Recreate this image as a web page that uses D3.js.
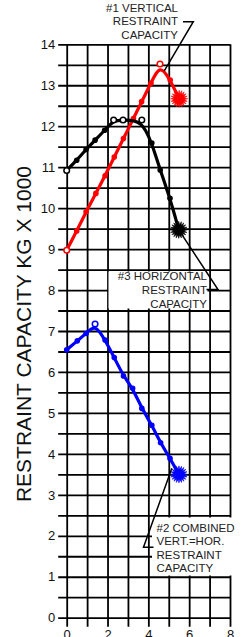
<!DOCTYPE html>
<html>
<head>
<meta charset="utf-8">
<script src="https://cdn.jsdelivr.net/npm/d3@7"></script>
<style>
  html, body { margin: 0; padding: 0; background: #fff; }
  svg { display: block; font-family: "Liberation Sans", Arial, sans-serif; }
</style>
</head>
<body>
<div id="container"></div>
<script>
// #1 vertical restraint capacity (red)
const redX = [0, 0.49, 0.95, 1.43, 1.88, 2.33, 2.78, 3.27, 3.67, 4.13, 4.57, 5.07, 5.51];
const redY = [8.97, 9.44, 9.91, 10.36, 10.79, 11.25, 11.7, 12.19, 12.6, 13.05, 13.52, 13.13, 12.67];
const redMarks = ["o", "d", "d", "d", "d", "d", "d", "d", "d", "d", "o", "d", "b"];

// #3 horizontal restraint capacity (black)
const blackX = [0, 0.49, 0.95, 1.39, 1.86, 2.3, 2.76, 3.68, 4.17, 4.58, 5.06, 5.49];
const blackY = [10.92, 11.17, 11.43, 11.66, 11.9, 12.15, 12.15, 12.15, 11.59, 10.93, 10.24, 9.47];
const blackMarks = ["o", "d", "d", "d", "d", "o", "o", "o", "d", "d", "d", "b"];

// #2 combined vert.=hor. restraint capacity (blue)
const blueX = [0, 0.52, 0.95, 1.39, 1.88, 2.33, 2.78, 3.23, 3.68, 4.17, 4.6, 5.06, 5.5];
const blueY = [6.54, 6.76, 6.94, 7.17, 6.78, 6.35, 5.9, 5.6, 5.11, 4.7, 4.27, 3.89, 3.5];
const blueMarks = ["d", "d", "d", "o", "d", "d", "d", "d", "d", "d", "d", "d", "b"];

const xTicks = [0, 1, 2, 3, 4, 5, 6, 7, 8];
const yTicks = d3.range(0, 14.01, 0.5);
const yTitle = "RESTRAINT CAPACITY KG X 1000";

const width = 244;
const height = 637;

const x = d3.scaleLinear().domain([0, 8]).range([66.7, 230]);
const y = d3.scaleLinear().domain([0, 14]).range([617.7, 44.3]);

const svg = d3.select("#container")
  .append("svg")
  .attr("width", width)
  .attr("height", height);

// grid + axes
const plotW = x(8) - x(0);
const plotH = y(0) - y(14);

svg.append("g")
  .attr("transform", `translate(${x(0)},0)`)
  .call(d3.axisLeft(y)
    .tickValues(yTicks)
    .tickSize(0)
    .tickPadding(11.5)
    .tickFormat(d => Number.isInteger(d) ? d : ""))
  .call(g => g.select(".domain").remove())
  .call(g => g.selectAll(".tick line")
    .attr("x1", -8.5).attr("x2", plotW)
    .attr("stroke", "#000").attr("stroke-width", 1.8))
  .call(g => g.selectAll("text")
    .attr("font-size", 13).attr("font-family", "Liberation Sans, Arial, sans-serif")
    .attr("fill", "#111"));

svg.append("g")
  .attr("transform", `translate(0,${y(0)})`)
  .call(d3.axisBottom(x)
    .tickValues(xTicks)
    .tickSize(9)
    .tickPadding(2.6)
    .tickFormat(d => d % 2 === 0 ? d : ""))
  .call(g => g.select(".domain").remove())
  .call(g => g.selectAll(".tick line")
    .attr("y1", -plotH)
    .attr("stroke", "#000").attr("stroke-width", 1.8))
  .call(g => g.selectAll("text")
    .attr("font-size", 13).attr("font-family", "Liberation Sans, Arial, sans-serif")
    .attr("fill", "#111"));

// y title
svg.append("text")
  .attr("transform", "translate(31,334) rotate(-90)")
  .attr("text-anchor", "middle")
  .attr("font-size", 21)
  .attr("fill", "#111")
  .text(yTitle);

// annotation boxes (white, over the grid)
const ann = svg.append("g").attr("font-size", 11.5).attr("fill", "#222");

ann.append("rect")
  .attr("x", 108.5).attr("y", 271.5).attr("width", 99).attr("height", 37)
  .attr("fill", "#fff");
ann.append("rect")
  .attr("x", 152).attr("y", 517.5).attr("width", 88).attr("height", 58)
  .attr("fill", "#fff");

function block(lines, xPos, y0, step, anchor) {
  ann.append("text")
    .attr("text-anchor", anchor)
    .selectAll("tspan")
    .data(lines)
    .enter()
    .append("tspan")
    .attr("x", xPos)
    .attr("y", (d, i) => y0 + i * step)
    .text(d => d);
}

block(["#1 VERTICAL", "RESTRAINT", "CAPACITY"], 178, 11.6, 13.8, "end");
block(["#3 HORIZONTAL", "RESTRAINT", "CAPACITY"], 207, 280.2, 14, "end");
block(["#2 COMBINED", "VERT.=HOR.", "RESTRAINT", "CAPACITY"], 156.5, 531.8, 13.4, "start");

// series
const series = [
  { xs: redX, ys: redY, marks: redMarks, color: "#ff0000" },
  { xs: blackX, ys: blackY, marks: blackMarks, color: "#000000" },
  { xs: blueX, ys: blueY, marks: blueMarks, color: "#0000ff" }
];

const line = d3.line()
  .x(d => x(d[0]))
  .y(d => y(d[1]))
  .curve(d3.curveBasis);

// starburst shape
const burstPts = d3.range(40).map(i => [
  (i / 40) * 2 * Math.PI,
  i % 2 === 0 ? 8.5 : 5.2
]);
const burstPath = d3.lineRadial().curve(d3.curveLinearClosed)(burstPts);

series.forEach(s => {
  const pts = s.xs.map((v, i) => [v, s.ys[i], s.marks[i]]);
  const g = svg.append("g");

  g.append("path")
    .datum(pts)
    .attr("d", line)
    .attr("fill", "none")
    .attr("stroke", s.color)
    .attr("stroke-width", 3.2)
    .attr("stroke-linejoin", "round");

  g.selectAll("circle.dot")
    .data(pts.filter(p => p[2] === "d"))
    .enter()
    .append("circle")
    .attr("class", "dot")
    .attr("cx", d => x(d[0]))
    .attr("cy", d => y(d[1]))
    .attr("r", 2.8)
    .attr("fill", s.color);

  g.selectAll("circle.open")
    .data(pts.filter(p => p[2] === "o"))
    .enter()
    .append("circle")
    .attr("class", "open")
    .attr("cx", d => x(d[0]))
    .attr("cy", d => y(d[1]))
    .attr("r", 2.8)
    .attr("fill", "#fff")
    .attr("stroke", s.color)
    .attr("stroke-width", 1.5);

  pts.filter(p => p[2] === "b").forEach(p => {
    g.append("path")
      .attr("d", burstPath)
      .attr("transform", `translate(${x(p[0])},${y(p[1])})`)
      .attr("fill", s.color)
      .attr("stroke", s.color)
      .attr("stroke-width", 0.6);
  });
});

// leader lines
const leaders = svg.append("g")
  .attr("fill", "none")
  .attr("stroke", "#000")
  .attr("stroke-width", 1.5);

leaders.append("path")
  .attr("d", `M183,21.7L193.3,21.7L${x(4.78)},${y(13.35)}`);
leaders.append("path")
  .attr("d", `M${x(5.49)},${y(9.47)}L218,289.6L206.5,289.6`);
leaders.append("path")
  .attr("d", `M${x(5.15)},${y(3.65)}L143.5,547.3L153.5,547.3`);
</script>
</body>
</html>
